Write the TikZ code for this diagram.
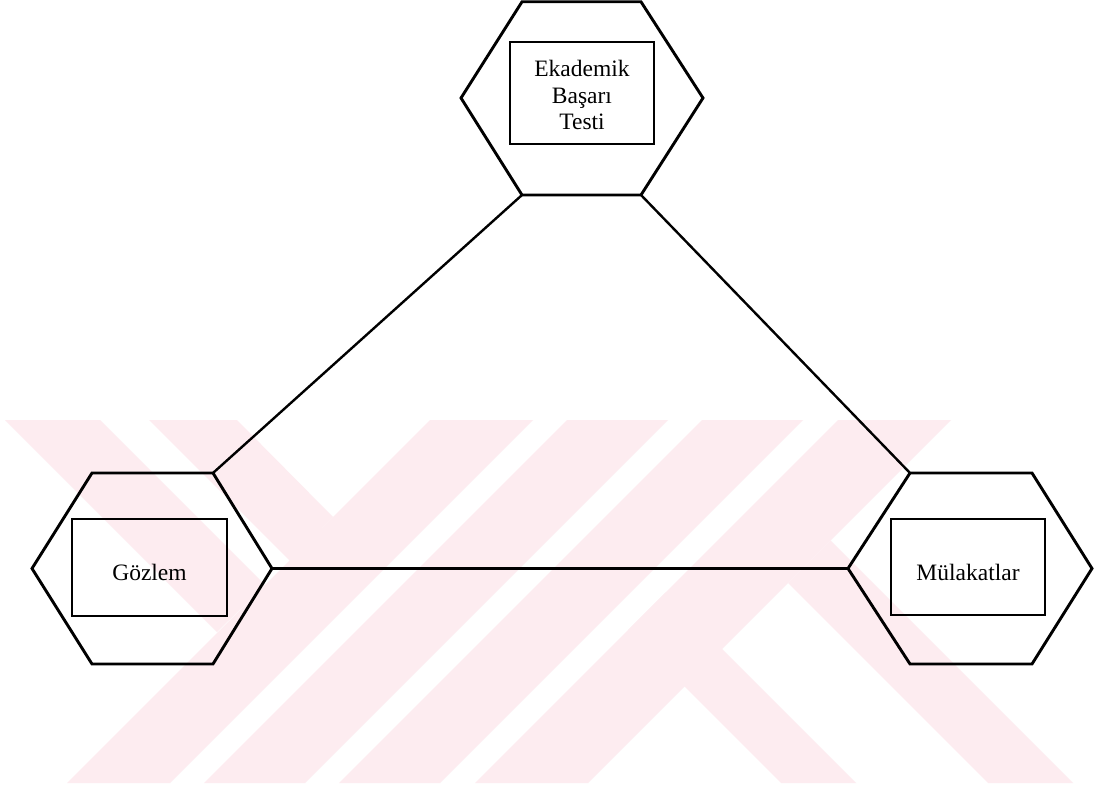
\documentclass[tikz,border=0pt]{standalone}
\usepackage{fontspec}
\setmainfont{Liberation Serif}
\definecolor{wm}{RGB}{253,236,240}
\begin{document}
\begin{tikzpicture}[x=1pt,y=-1pt,
  hexline/.style={line width=2.9pt, line join=miter},
  conn/.style={line width=2.4pt},
  box/.style={draw, line width=2pt, inner sep=0pt},
  txt/.style={inner sep=0pt, font=\fontsize{23.5}{26.5}\selectfont, align=center},
  wmark/.style={fill=wm, draw=none}]
\useasboundingbox (0,0) rectangle (1098,786);
\fill[white] (0,0) rectangle (1098,786);
% watermark
\fill[wmark] (430,420) -- (533,420) -- (170,783) -- (67,783) -- cycle;
\fill[wmark] (567,420) -- (668,420) -- (305,783) -- (204,783) -- cycle;
\fill[wmark] (702,420) -- (803,420) -- (440,783) -- (339,783) -- cycle;
\fill[wmark] (838,420) -- (951,420) -- (588,783) -- (475,783) -- cycle;
\fill[wmark] (5,420) -- (100,420) -- (265,585) -- (217,632) -- cycle;
\fill[wmark] (149,420) -- (237,420) -- (333,517) -- (290,561) -- cycle;
\fill[wmark] (628,630) -- (665.5,592.5) -- (856,783) -- (781,783) -- cycle;
\fill[wmark] (788,583) -- (830.5,540.5) -- (1073,783) -- (988,783) -- cycle;
% top hexagon
\coordinate (T-l) at (461,98);
\coordinate (T-tl) at (522,1.8);
\coordinate (T-tr) at (641,1.8);
\coordinate (T-r) at (703,98);
\coordinate (T-br) at (641,195);
\coordinate (T-bl) at (522,195);
\draw[hexline] (T-l) -- (T-tl) -- (T-tr) -- (T-r) -- (T-br) -- (T-bl) -- cycle;
% left hexagon
\coordinate (G-l) at (32,568.5);
\coordinate (G-tl) at (92,473);
\coordinate (G-tr) at (213,473);
\coordinate (G-r) at (272,568.5);
\coordinate (G-br) at (213,664);
\coordinate (G-bl) at (92,664);
\draw[hexline] (G-l) -- (G-tl) -- (G-tr) -- (G-r) -- (G-br) -- (G-bl) -- cycle;
% right hexagon
\coordinate (M-l) at (848,568.5);
\coordinate (M-tl) at (910,473);
\coordinate (M-tr) at (1032,473);
\coordinate (M-r) at (1092,568.5);
\coordinate (M-br) at (1032,664);
\coordinate (M-bl) at (910,664);
\draw[hexline] (M-l) -- (M-tl) -- (M-tr) -- (M-r) -- (M-br) -- (M-bl) -- cycle;
% boxes
\node[box, minimum width=144pt, minimum height=102pt] (ebt) at (582,93) {};
\node[box, minimum width=155pt, minimum height=97pt] (goz) at (149.5,567.5) {};
\node[box, minimum width=154pt, minimum height=96pt] (mul) at (968,567) {};
\node[txt] (ebt-t) at ([yshift=-2pt]ebt.center) {Ekademik\\Başarı\\Testi};
\node[txt] (goz-t) at ([yshift=-5pt]goz.center) {Gözlem};
\node[txt] (mul-t) at ([yshift=-5pt]mul.center) {Mülakatlar};
% connectors
\draw[conn] (T-bl) -- (G-tr);
\draw[conn] (T-br) -- (M-tl);
\draw[conn] (G-r) -- (M-l);
\end{tikzpicture}
\end{document}
